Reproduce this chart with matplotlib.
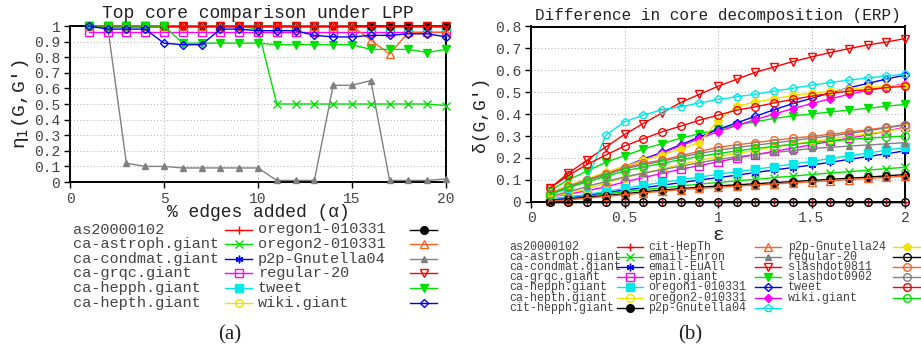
import matplotlib
matplotlib.use('Agg')
import matplotlib.pyplot as plt

plt.rcParams['font.family'] = ['Liberation Mono', 'DejaVu Sans Mono']

# ---- panel (a): top core comparison under LPP ----
alpha = [1, 2, 3, 4, 5, 6, 7, 8, 9, 10, 11, 12, 13, 14, 15, 16, 17, 18, 19, 20]
names_a = ['as20000102', 'ca-astroph.giant', 'ca-condmat.giant', 'ca-grqc.giant',
           'ca-hepph.giant', 'ca-hepth.giant', 'oregon1-010331', 'oregon2-010331',
           'p2p-Gnutella04', 'regular-20', 'tweet', 'wiki.giant']
eta_as = [1, 1, 1, 1, 1, 1, 1, 1, 1, 1, 1, 1, 1, 1, 1, 1, 1, 1, 1, 1]
eta_astroph = [1, 1, 1, 1, 1, 1, 1, 1, 1, 0.98, 0.5, 0.5, 0.5, 0.5, 0.5, 0.5, 0.5, 0.5, 0.5, 0.49]
eta_condmat = [1, 1, 1, 1, 1, 1, 1, 1, 1, 1, 1, 1, 1, 1, 1, 1, 1, 1, 1, 1]
eta_grqc = [0.96, 0.96, 0.96, 0.96, 0.96, 0.96, 0.96, 0.96, 0.96, 0.96,
            0.96, 0.96, 0.96, 0.96, 0.96, 0.96, 0.96, 0.96, 0.96, 0.96]
eta_hepph = [1, 1, 1, 1, 1, 1, 1, 1, 1, 1, 1, 1, 1, 1, 1, 1, 1, 1, 1, 1]
eta_hepth = [1, 1, 1, 1, 1, 1, 1, 1, 1, 1, 1, 1, 1, 1, 1, 1, 1, 1, 1, 1]
eta_oregon1 = [1, 1, 1, 1, 1, 1, 1, 1, 1, 1, 1, 1, 1, 1, 1, 1, 1, 1, 1, 1]
eta_oregon2 = [1, 1, 1, 1, 1, 1, 1, 1, 1, 1, 1, 1, 1, 1, 1, 0.91, 0.82, 0.96, 0.96, 0.96]
eta_p2p04 = [1, 1, 0.12, 0.10, 0.10, 0.09, 0.09, 0.09, 0.09, 0.09,
             0.01, 0.01, 0.01, 0.62, 0.62, 0.65, 0.01, 0.01, 0.01, 0.02]
eta_regular = [1, 1, 1, 1, 1, 1, 1, 1, 1, 1, 1, 1, 1, 1, 1, 1, 1, 1, 1, 1]
eta_tweet = [1, 1, 1, 1, 1, 0.89, 0.89, 0.89, 0.89, 0.89,
             0.88, 0.88, 0.88, 0.88, 0.88, 0.85, 0.85, 0.85, 0.83, 0.85]
eta_wiki = [1, 0.98, 0.98, 0.98, 0.89, 0.88, 0.88, 0.98, 0.98, 0.97,
            0.97, 0.97, 0.94, 0.93, 0.93, 0.94, 0.94, 0.95, 0.95, 0.93]
series_a = [eta_as, eta_astroph, eta_condmat, eta_grqc, eta_hepph, eta_hepth,
            eta_oregon1, eta_oregon2, eta_p2p04, eta_regular, eta_tweet, eta_wiki]

# ---- panel (b): difference in core decomposition (ERP) ----
eps = [0.1, 0.2, 0.3, 0.4, 0.5, 0.6, 0.7, 0.8, 0.9, 1.0,
       1.1, 1.2, 1.3, 1.4, 1.5, 1.6, 1.7, 1.8, 1.9, 2.0]
names_b = ['as20000102', 'ca-astroph.giant', 'ca-condmat.giant', 'ca-grqc.giant',
           'ca-hepph.giant', 'ca-hepth.giant', 'cit-hepph.giant', 'cit-HepTh',
           'email-Enron', 'email-EuAll', 'epin.giant', 'oregon1-010331',
           'oregon2-010331', 'p2p-Gnutella04', 'p2p-Gnutella24', 'regular-20',
           'slashdot0811', 'slashdot0902', 'tweet', 'wiki.giant']
d_as = [0, 0, 0, 0, 0, 0, 0, 0, 0, 0, 0, 0, 0, 0, 0, 0, 0, 0, 0, 0]
d_astroph = [0.008, 0.015, 0.025, 0.035, 0.045, 0.055, 0.063, 0.072, 0.08, 0.088,
             0.095, 0.102, 0.11, 0.117, 0.124, 0.131, 0.137, 0.144, 0.151, 0.157]
d_condmat = [0.01, 0.02, 0.03, 0.042, 0.053, 0.064, 0.075, 0.087, 0.099, 0.11,
             0.121, 0.133, 0.145, 0.156, 0.167, 0.18, 0.193, 0.206, 0.219, 0.232]
d_grqc = [0.02, 0.035, 0.05, 0.068, 0.09, 0.11, 0.129, 0.148, 0.165, 0.182,
          0.199, 0.215, 0.23, 0.245, 0.26, 0.275, 0.29, 0.305, 0.322, 0.34]
d_hepph = [0.012, 0.022, 0.033, 0.047, 0.061, 0.075, 0.088, 0.1, 0.112, 0.125,
           0.137, 0.148, 0.16, 0.172, 0.184, 0.197, 0.21, 0.222, 0.235, 0.248]
d_hepth = [0.02, 0.04, 0.06, 0.085, 0.11, 0.13, 0.15, 0.17, 0.188, 0.205,
           0.22, 0.235, 0.25, 0.262, 0.275, 0.287, 0.298, 0.31, 0.322, 0.335]
d_cithepph = [0.005, 0.012, 0.02, 0.028, 0.036, 0.045, 0.053, 0.06, 0.066, 0.072,
              0.077, 0.082, 0.087, 0.092, 0.097, 0.102, 0.107, 0.112, 0.118, 0.124]
d_cithepth = [0.003, 0.009, 0.016, 0.024, 0.032, 0.04, 0.048, 0.055, 0.061, 0.066,
              0.071, 0.076, 0.081, 0.086, 0.091, 0.096, 0.101, 0.106, 0.111, 0.117]
d_enron = [0.025, 0.045, 0.07, 0.092, 0.113, 0.13, 0.146, 0.162, 0.178, 0.193,
           0.205, 0.215, 0.225, 0.233, 0.243, 0.248, 0.254, 0.259, 0.264, 0.27]
d_euall = [0.061, 0.13, 0.19, 0.25, 0.307, 0.357, 0.405, 0.453, 0.49, 0.527,
           0.559, 0.591, 0.615, 0.64, 0.661, 0.681, 0.699, 0.716, 0.729, 0.745]
d_epin = [0.05, 0.10, 0.14, 0.18, 0.21, 0.24, 0.265, 0.29, 0.31, 0.33,
          0.35, 0.365, 0.38, 0.392, 0.40, 0.41, 0.418, 0.426, 0.436, 0.444]
d_oregon1 = [0.035, 0.07, 0.10, 0.13, 0.16, 0.195, 0.225, 0.26, 0.295, 0.33,
             0.36, 0.39, 0.42, 0.448, 0.472, 0.497, 0.52, 0.54, 0.56, 0.578]
d_oregon2 = [0.033, 0.068, 0.098, 0.128, 0.158, 0.19, 0.222, 0.255, 0.288, 0.32,
             0.348, 0.375, 0.40, 0.425, 0.448, 0.47, 0.49, 0.508, 0.523, 0.538]
d_p2p04 = [0.035, 0.06, 0.10, 0.304, 0.365, 0.395, 0.42, 0.433, 0.451, 0.467,
           0.479, 0.491, 0.505, 0.518, 0.532, 0.544, 0.555, 0.565, 0.574, 0.582]
d_p2p24 = [0.04, 0.075, 0.105, 0.135, 0.16, 0.19, 0.215, 0.24, 0.27, 0.37,
           0.435, 0.455, 0.47, 0.485, 0.495, 0.505, 0.515, 0.522, 0.528, 0.532]
d_regular = [0, 0, 0, 0, 0, 0, 0, 0, 0, 0, 0, 0, 0, 0, 0, 0, 0, 0, 0, 0]
d_sd0811 = [0.035, 0.07, 0.10, 0.125, 0.155, 0.175, 0.19, 0.21, 0.23, 0.248,
            0.26, 0.27, 0.28, 0.29, 0.298, 0.308, 0.318, 0.328, 0.34, 0.352]
d_sd0902 = [0.035, 0.068, 0.098, 0.122, 0.15, 0.168, 0.185, 0.203, 0.22, 0.235,
            0.247, 0.258, 0.268, 0.279, 0.29, 0.3, 0.311, 0.324, 0.337, 0.35]
d_tweet = [0.062, 0.12, 0.17, 0.213, 0.254, 0.287, 0.319, 0.345, 0.372, 0.395,
           0.418, 0.433, 0.451, 0.467, 0.482, 0.494, 0.505, 0.512, 0.521, 0.527]
d_wiki = [0.03, 0.065, 0.09, 0.115, 0.14, 0.158, 0.175, 0.192, 0.207, 0.22,
          0.232, 0.243, 0.253, 0.262, 0.27, 0.277, 0.284, 0.29, 0.295, 0.30]
series_b = [d_as, d_astroph, d_condmat, d_grqc, d_hepph, d_hepth, d_cithepph,
            d_cithepth, d_enron, d_euall, d_epin, d_oregon1, d_oregon2, d_p2p04,
            d_p2p24, d_regular, d_sd0811, d_sd0902, d_tweet, d_wiki]

# gnuplot-like line styles: (colour, marker, filled)
colors = ['#ff0000', '#00e000', '#0000ff', '#ff00ff', '#00e8e8', '#f0e000',
          '#000000', '#ff6020', '#808080']
markers = [('+', False), ('x', False), ((6, 2, 0), False), ('s', False), ('s', True),
           ('o', False), ('o', True), ('^', False), ('^', True), ('v', False),
           ('v', True), ('D', False), ('D', True), ('p', False), ('p', True),
           ('o', False), ('o', False), ('o', False), ('o', False), ('o', False)]


def style(i):
    c = colors[i % len(colors)]
    m, filled = markers[i]
    ms = 5.5
    if m in ('D',):
        ms = 4.5
    if m == '^' and filled:
        ms = 4
    return dict(color=c, marker=m, markersize=ms, lw=1.0, mew=1.0,
                markerfacecolor=c if filled else 'none', markeredgecolor=c)


fig = plt.figure(figsize=(9.21, 3.52), dpi=100)
W, H = 921, 352
ax1 = fig.add_axes([70 / W, 1 - 182 / H, 376 / W, 156 / H])
ax2 = fig.add_axes([531 / W, 1 - 201.7 / H, 374 / W, 175.2 / H])

tick_col = '#444444'
for ax in (ax1, ax2):
    ax.grid(True, ls=(0, (1, 2)), color='#bbbbbb', lw=0.8)
    ax.tick_params(direction='out', length=4, width=1, labelsize=10.5,
                   labelcolor=tick_col, pad=3)
    for sp in ax.spines.values():
        sp.set_linewidth(1.4)

for i, ys in enumerate(series_a):
    ax1.plot(alpha, ys, clip_on=False, zorder=3, **style(i))
ax1.set_xlim(0, 20)
ax1.set_ylim(0, 1)
ax1.set_xticks([0, 5, 10, 15, 20])
ax1.set_yticks([0, 0.1, 0.2, 0.3, 0.4, 0.5, 0.6, 0.7, 0.8, 0.9, 1])
ax1.set_yticklabels(['0', '0.1', '0.2', '0.3', '0.4', '0.5', '0.6', '0.7', '0.8', '0.9', '1'])
ax1.set_title('Top core comparison under LPP', fontsize=13, color='#222222', pad=6)
ax1.set_xlabel('% edges added (α)', fontsize=13, color='#222222', labelpad=-1)
ax1.set_ylabel('η$_1$(G,G′)', fontsize=14, color='#222222', labelpad=2)

for i, ys in enumerate(series_b):
    ax2.plot(eps, ys, clip_on=False, zorder=3, **style(i))
ax2.set_xlim(0, 2)
ax2.set_ylim(0, 0.8)
ax2.set_xticks([0, 0.5, 1, 1.5, 2])
ax2.set_xticklabels(['0', '0.5', '1', '1.5', '2'])
ax2.set_yticks([0, 0.1, 0.2, 0.3, 0.4, 0.5, 0.6, 0.7, 0.8])
ax2.set_yticklabels(['0', '0.1', '0.2', '0.3', '0.4', '0.5', '0.6', '0.7', '0.8'])
ax2.set_title('Difference in core decomposition (ERP)', fontsize=11.5, color='#222222', pad=5)
ax2.set_xlabel('ε', fontsize=14, color='#222222', labelpad=1)
ax2.set_ylabel('δ(G,G′)', fontsize=13, color='#222222', labelpad=4)

# legends drawn on an overlay in pixel coordinates (text first, sample on the right)
lax = fig.add_axes([0, 0, 1, 1])
lax.set_xlim(0, W)
lax.set_ylim(H, 0)
lax.axis('off')


def draw_legend(names, nrows, col_text_x, col_line_x, y0, dy, fs):
    for i, name in enumerate(names):
        col, row = divmod(i, nrows)
        y = y0 + row * dy
        lax.text(col_text_x[col], y, name, fontsize=fs, color='#444444',
                 va='center', ha='left')
        st = style(i)
        x1, x2 = col_line_x[col]
        lax.plot([x1, x2], [y, y], color=st['color'], lw=1.0, clip_on=False)
        lax.plot([(x1 + x2) / 2], [y], ls='none', clip_on=False,
                 marker=st['marker'], markersize=st['markersize'], mew=1.0,
                 markerfacecolor=st['markerfacecolor'], markeredgecolor=st['color'])


draw_legend(names_a, 6, [73, 258], [(225, 252), (410, 437)], 229.5, 14.6, 11)
draw_legend(names_b, 7, [509, 648, 788], [(617, 643), (755, 781), (893, 920)], 247, 10.1, 8.4)

fig.text(230 / W, 1 - 335 / H, '(a)', fontsize=15, family='Liberation Serif',
         ha='center', va='center', color='#222222')
fig.text(690 / W, 1 - 335 / H, '(b)', fontsize=15, family='Liberation Serif',
         ha='center', va='center', color='#222222')

fig.savefig('out.png', dpi=100)
